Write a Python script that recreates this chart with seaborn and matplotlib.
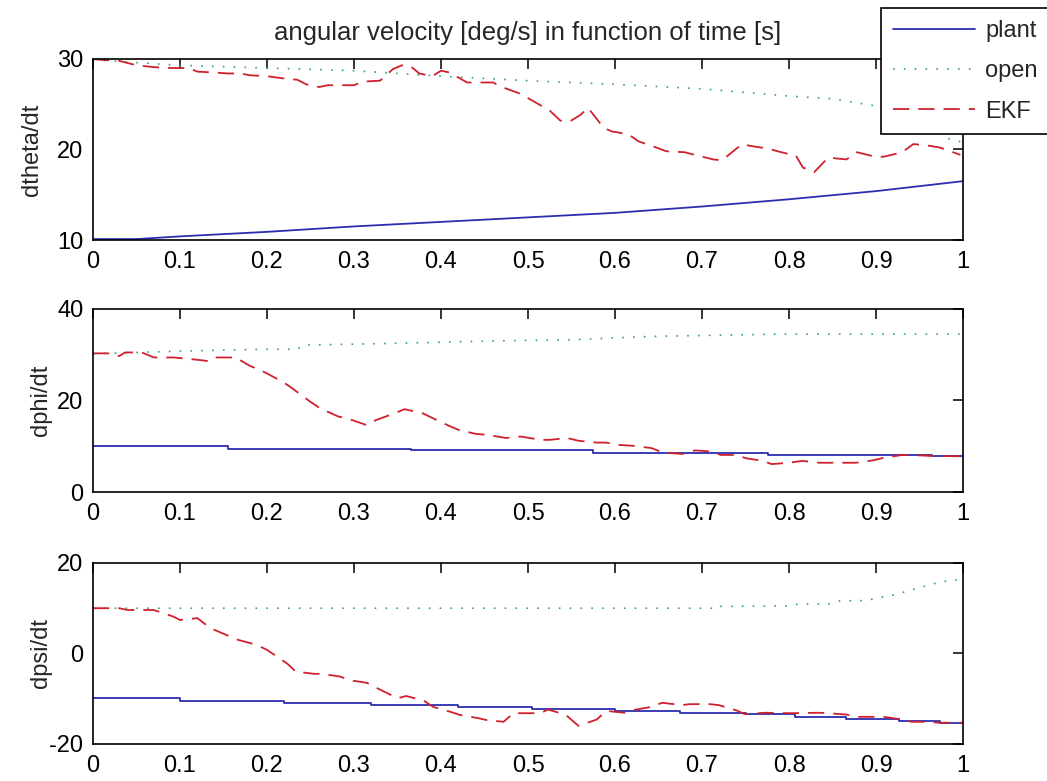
import matplotlib
matplotlib.use("Agg")
import matplotlib.pyplot as plt
import seaborn as sns
import pandas as pd
from matplotlib.ticker import FormatStrFormatter

# ---- data ----
# dtheta/dt
t_plant1 = [0, 0.05, 0.1, 0.2, 0.3, 0.4, 0.5, 0.6, 0.7, 0.8, 0.9, 1.0]
plant1 = [10.1, 10.1, 10.4, 10.9, 11.5, 12.0, 12.5, 13.0, 13.7, 14.5, 15.4, 16.5]
t_open1 = [0, 0.1, 0.2, 0.3, 0.4, 0.5, 0.6, 0.7, 0.75, 0.8, 0.85, 0.9, 0.93, 0.96, 0.975, 0.985, 1.0]
open1 = [29.9, 29.3, 29.0, 28.7, 28.1, 27.6, 27.2, 26.7, 26.3, 25.9, 25.6, 24.8, 24.4, 23.3, 21.9, 21.1, 20.8]
t_ekf1 = [0.0, 0.01, 0.03, 0.05, 0.07, 0.09, 0.11, 0.12, 0.14, 0.155, 0.17, 0.18, 0.20,
          0.215, 0.235, 0.245, 0.26, 0.27, 0.28, 0.30, 0.31, 0.33, 0.345, 0.355, 0.365,
          0.375, 0.39, 0.40, 0.41, 0.43, 0.44, 0.46, 0.47, 0.49, 0.505, 0.525, 0.537,
          0.548, 0.56, 0.569, 0.587, 0.596, 0.615, 0.627, 0.648, 0.659, 0.68, 0.692,
          0.713, 0.723, 0.746, 0.755, 0.776, 0.787, 0.808, 0.816, 0.829, 0.836, 0.845,
          0.866, 0.878, 0.899, 0.909, 0.93, 0.943, 0.962, 0.974, 0.997]
ekf1 = [30.0, 29.9, 29.8, 29.3, 29.1, 29.0, 29.0, 28.6, 28.5, 28.4, 28.4, 28.2, 28.1,
        27.9, 27.7, 27.2, 26.9, 27.1, 27.1, 27.1, 27.5, 27.6, 28.9, 29.3, 29.2,
        28.4, 28.1, 28.7, 28.5, 27.4, 27.4, 27.4, 26.9, 26.2, 25.4, 24.3, 23.2,
        23.1, 23.8, 24.6, 22.4, 22.0, 21.7, 20.9, 20.2, 19.8, 19.7, 19.4,
        18.9, 18.8, 20.6, 20.4, 20.1, 19.8, 19.3, 18.0, 17.5, 18.2, 19.1,
        18.9, 19.7, 19.2, 19.2, 19.7, 20.6, 20.4, 20.2, 19.4]

# dphi/dt
t_plant2 = [0, 0.155, 0.366, 0.575, 0.776, 0.964, 1.0]
plant2 = [10.0, 9.5, 9.1, 8.6, 8.2, 7.8, 7.8]
t_open2 = [0, 0.1, 0.2, 0.235, 0.241, 0.35, 0.48, 0.54, 0.64, 0.79, 1.0]
open2 = [30.2, 30.8, 31.2, 31.2, 32.1, 32.5, 33.1, 33.2, 34.0, 34.5, 34.5]
t_ekf2 = [0.0, 0.02, 0.03, 0.037, 0.056, 0.07, 0.093, 0.12, 0.133, 0.14, 0.164, 0.18,
          0.196, 0.218, 0.228, 0.25, 0.261, 0.282, 0.292, 0.315, 0.325, 0.348, 0.358,
          0.379, 0.39, 0.41, 0.42, 0.44, 0.453, 0.475, 0.486, 0.493, 0.514, 0.525,
          0.545, 0.558, 0.579, 0.59, 0.604, 0.621, 0.642, 0.654, 0.677, 0.692, 0.707,
          0.722, 0.74, 0.75, 0.77, 0.78, 0.80, 0.815, 0.835, 0.865, 0.877, 0.896,
          0.907, 0.93, 0.94, 0.962, 1.0]
ekf2 = [30.3, 30.3, 29.7, 30.5, 30.5, 29.4, 29.4, 28.9, 28.6, 29.4, 29.4, 27.6,
        26.3, 24.1, 22.8, 19.7, 18.3, 16.5, 16.1, 14.6, 15.7, 17.3, 18.1,
        17.2, 16.2, 14.4, 13.6, 12.7, 12.5, 11.8, 12.1, 12.1, 11.4, 11.4,
        11.8, 11.2, 10.8, 10.8, 10.3, 10.1, 9.6, 8.7, 8.3, 9.1, 8.9,
        8.1, 8.1, 7.4, 6.8, 6.1, 6.4, 6.8, 6.4, 6.4, 6.4, 6.9,
        7.4, 8.1, 8.1, 7.9, 7.8]

# dpsi/dt
t_plant3 = [0, 0.1, 0.22, 0.32, 0.42, 0.505, 0.6, 0.675, 0.75, 0.807, 0.866, 0.926, 0.974, 1.0]
plant3 = [-9.9, -10.4, -10.9, -11.3, -11.8, -12.3, -12.7, -13.1, -13.4, -14.0, -14.5, -14.9, -15.3, -15.3]
t_open3 = [0, 0.72, 0.721, 0.8, 0.81, 0.845, 0.855, 0.89, 0.9, 0.92, 0.94, 0.96, 0.977, 0.995]
open3 = [10.0, 10.0, 10.4, 10.5, 10.9, 10.9, 11.6, 11.7, 12.2, 12.9, 14.0, 15.1, 15.9, 16.3]
t_ekf3 = [0.0, 0.03, 0.04, 0.07, 0.093, 0.1, 0.12, 0.135, 0.158, 0.167, 0.188, 0.2,
          0.223, 0.233, 0.254, 0.263, 0.284, 0.295, 0.315, 0.327, 0.35, 0.36, 0.38,
          0.391, 0.411, 0.422, 0.443, 0.452, 0.472, 0.483, 0.514, 0.523, 0.543,
          0.558, 0.579, 0.59, 0.611, 0.621, 0.642, 0.654, 0.677, 0.686, 0.709,
          0.719, 0.74, 0.749, 0.772, 0.801, 0.835, 0.845, 0.866, 0.878, 0.899,
          0.909, 0.93, 0.941, 0.962, 0.971, 1.0]
ekf3 = [10.0, 10.0, 9.6, 9.6, 8.1, 7.4, 7.8, 5.6, 3.7, 3.0, 1.9, 0.8,
        -2.2, -4.0, -4.5, -4.5, -5.1, -5.9, -6.5, -7.7, -9.9, -9.4, -10.4,
        -11.8, -12.9, -13.6, -14.3, -14.7, -15.1, -13.2, -13.2, -12.4, -13.5,
        -16.0, -14.6, -12.7, -13.1, -12.5, -11.8, -10.9, -11.4, -11.2, -11.2,
        -11.4, -12.6, -13.4, -13.1, -13.2, -13.1, -13.2, -13.5, -14.0, -14.0,
        -14.0, -14.6, -15.1, -15.1, -15.3, -15.3]

ylabels = ["dtheta/dt", "dphi/dt", "dpsi/dt"]
ylims = [(10, 30), (0, 40), (-20, 20)]
yticks = [[10, 20, 30], [0, 20, 40], [-20, 0, 20]]
title = "angular velocity [deg/s] in function of time [s]"

# ---- style ----
sns.set_style("white")
plt.rcParams["font.family"] = ["Liberation Sans", "DejaVu Sans"]
plt.rcParams["axes.unicode_minus"] = False

blue = "#2c2cb0"
green = "#34a860"
red = "#d0202e"

fig = plt.figure(figsize=(10.47, 7.81), dpi=100)
positions = [
    [0.0888, 0.6927, 0.8310, 0.2318],
    [0.0888, 0.3700, 0.8310, 0.2344],
    [0.0888, 0.0474, 0.8310, 0.2318],
]
label_x = [-0.058, -0.047, -0.047]

series = [
    (t_plant1, plant1, t_open1, open1, t_ekf1, ekf1, "default"),
    (t_plant2, plant2, t_open2, open2, t_ekf2, ekf2, "steps-post"),
    (t_plant3, plant3, t_open3, open3, t_ekf3, ekf3, "steps-post"),
]

axes = []
for i, (tp, yp, to, yo, te, ye, pstyle) in enumerate(series):
    ax = fig.add_axes(positions[i])
    df_p = pd.DataFrame({"t": tp, "v": yp})
    df_o = pd.DataFrame({"t": to, "v": yo})
    df_e = pd.DataFrame({"t": te, "v": ye})
    sns.lineplot(data=df_p, x="t", y="v", ax=ax, color=blue, linewidth=1.3,
                 drawstyle=pstyle, label="plant")
    sns.lineplot(data=df_o, x="t", y="v", ax=ax, color=green, linewidth=1.2,
                 linestyle=(0, (1, 5.5)), label="open")
    sns.lineplot(data=df_e, x="t", y="v", ax=ax, color=red, linewidth=1.3,
                 linestyle=(0, (9, 5)), label="EKF")
    ax.get_legend().remove()

    ax.set_xlim(0, 1)
    ax.set_ylim(*ylims[i])
    ax.set_xticks([k / 10 for k in range(11)])
    ax.set_yticks(yticks[i])
    ax.xaxis.set_major_formatter(FormatStrFormatter("%g"))
    ax.set_xlabel("")
    ax.set_ylabel(ylabels[i], fontsize=17)
    ax.yaxis.set_label_coords(label_x[i], 0.5)
    ax.tick_params(direction="in", length=7, width=1.1, top=True, right=True,
                   labelsize=17, colors="black")
    ax.tick_params(axis="x", pad=8)
    ax.tick_params(axis="y", pad=7)
    for s in ax.spines.values():
        s.set_color("black")
        s.set_linewidth(1.2)
    axes.append(ax)

axes[0].set_title(title, fontsize=18.5, pad=14)

handles, labels = axes[0].get_legend_handles_labels()
leg = fig.legend(handles, labels, loc="upper left", bbox_to_anchor=(0.8415, 0.9898),
                 bbox_transform=fig.transFigure, fontsize=17, frameon=True,
                 fancybox=False, framealpha=1, edgecolor="black", borderaxespad=0,
                 borderpad=0.5, handlelength=3.5, handletextpad=0.4, labelspacing=0.78)
leg.get_frame().set_linewidth(1.2)

fig.savefig("out.png", dpi=100, facecolor="white")
